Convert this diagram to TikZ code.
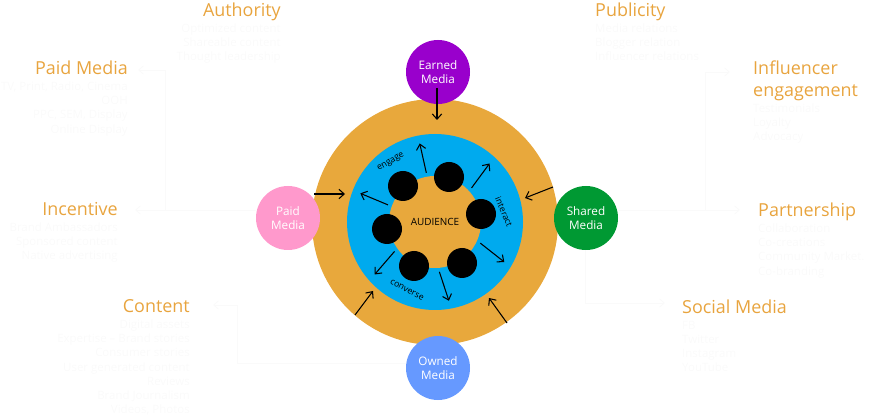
\documentclass[tikz,border=0pt]{standalone}
\usepackage{fontspec}
\setmainfont{Open Sans}
\usetikzlibrary{arrows.meta,positioning,calc}
\definecolor{ringorange}{RGB}{232,168,60}
\definecolor{labelorange}{RGB}{232,164,62}
\definecolor{ringblue}{RGB}{0,170,238}
\definecolor{earnedpurple}{RGB}{153,0,204}
\definecolor{paidpink}{RGB}{255,153,204}
\definecolor{sharedgreen}{RGB}{0,153,51}
\definecolor{ownedblue}{RGB}{102,153,255}
\definecolor{ghost}{RGB}{250,250,250}

\begin{document}
\begin{tikzpicture}[x=0.03cm, y=0.03cm,
  media/.style={circle, minimum size=1.92cm, inner sep=0pt, text=white, align=center, font=\fontsize{10}{12}\selectfont},
  person/.style={circle, fill=black, minimum size=0.9cm, inner sep=0pt},
  arr/.style={-{Straight Barb[length=4.5pt,width=8pt]}, line width=0.9pt},
  head/.style={text=labelorange, font=\fontsize{15.3}{19}\selectfont, inner sep=0pt, text height=11pt, text depth=3.5pt},
  sub/.style={text=ghost, font=\fontsize{9.8}{12.2}\selectfont, inner sep=0pt},
  ghostarr/.style={ghost, line width=0.8pt, -{Straight Barb[length=4pt,width=7pt]}},
  ringword/.style={font=\fontsize{7.5}{9}\selectfont, inner sep=0pt}]
  \useasboundingbox (0,0) rectangle (869,419);

  % rings
  \coordinate (c) at (435,197);
  \fill[ringorange] (c) circle (123);
  \fill[ringblue] (c) circle (88);
  \fill[ringorange] (c) circle (46);
  \node[font=\fontsize{8.5}{10}\selectfont] (aud) at (c) {AUDIENCE};

  % audience members and arrows out of them
  \foreach \x/\y [count=\i] in {403/233, 449/242, 481/205, 462/156, 414/153, 387/190}
    \node[person] (p\i) at (\x,\y) {};
  \foreach \a/\b in {100/101, 43/47, -25/-30, -85/-80, -144/-139, 160/159}
    \draw[arr] ($(c)+(\a:50)$) -- ($(c)+(\b:80)$);

  % words on the blue ring
  \node[ringword, rotate=31] (engage) at (391,257) {engage};
  \node[ringword, rotate=-67] (interact) at (504,207) {interact};
  \node[ringword, rotate=-28] (converse) at (407,129) {converse};

  % media circles
  \node[media, fill=earnedpurple] (earned) at (438,347) {Earned\\Media};
  \node[media, fill=paidpink] (paid) at (288,201) {Paid\\Media};
  \node[media, fill=sharedgreen] (shared) at (586,201) {Shared\\Media};
  \node[media, fill=ownedblue] (owned) at (438,51) {Owned\\Media};

  % arrows into the outer ring
  \coordinate (et) at (437,331); \coordinate (eh) at (437,299);
  \coordinate (pt) at (314,225); \coordinate (ph) at (345,225);
  \coordinate (st) at (553,232); \coordinate (sh) at (525,221);
  \coordinate (ot1) at (355,104); \coordinate (oh1) at (373,128);
  \coordinate (ot2) at (507,96); \coordinate (oh2) at (489,121);
  \draw[arr] (et) -- (eh);
  \draw[arr] (pt) -- (ph);
  \draw[arr] (st) -- (sh);
  \draw[arr] (ot1) -- (oh1);
  \draw[arr] (ot2) -- (oh2);

  % headings, left side
  \node[head, anchor=base east] (auth) at (281,402.5) {Authority};
  \node[head, anchor=base east] (paidh) at (128,344.5) {Paid Media};
  \node[head, anchor=base east] (inc) at (118,203.5) {Incentive};
  \node[head, anchor=base east] (cont) at (190,106.5) {Content};
  % headings, right side
  \node[head, anchor=base west] (pub) at (595,402.5) {Publicity};
  \node[head, anchor=base west, align=left] (infl) at (753,322.5) {Influencer\\engagement};
  \node[head, anchor=base west] (part) at (758,202.5) {Partnership};
  \node[head, anchor=base west] (soc) at (682,105) {Social Media};

  % faint lists under the headings
  \node[sub, align=right, anchor=north east] (authsub) at ([yshift=-2pt]auth.south east) {Optimized content\\Shareable content\\Thought leadership};
  \node[sub, align=right, anchor=north east] (paidsub) at ([yshift=-2pt]paidh.south east) {TV, Print, Radio, Cinema\\OOH\\PPC, SEM, Display\\Online Display};
  \node[sub, align=right, anchor=north east] (incsub) at ([yshift=-2pt]inc.south east) {Brand Ambassadors\\Sponsored content\\Native advertising};
  \node[sub, align=right, anchor=north east] (contsub) at ([yshift=-2pt]cont.south east) {Digital assets\\Expertise -- Brand stories\\Consumer stories\\User generated content\\Reviews\\Brand Journalism\\Videos, Photos};
  \node[sub, align=left, anchor=north west] (pubsub) at ([yshift=-2pt]pub.south west) {Media relations\\Blogger relation\\Influencer relations};
  \node[sub, align=left, anchor=north west] (inflsub) at ([yshift=-2pt]infl.south west) {Testimonials\\Loyalty\\Advocacy};
  \node[sub, align=left, anchor=north west] (partsub) at ([yshift=-2pt]part.south west) {Collaboration\\Co-creations\\Community Market.\\Co-branding};
  \node[sub, align=left, anchor=north west] (socsub) at ([yshift=-2pt]soc.south west) {FB\\Twitter\\Instagram\\YouTube};

  % faint connectors
  \draw[ghostarr] (paid.west |- 0,209) -- (135,209);
  \draw[ghostarr] (165,209) -- (165,349) -- (138,349);
  \draw[ghostarr] (shared.east |- 0,209) -- (740,209);
  \draw[ghostarr] (shared.south -| 585,0) -- (585,116) -- (665,116);
  \draw[ghostarr] (705,209) -- (705,347) -- (730,347);
  \draw[ghostarr] (owned.west |- 0,56) -- (237,56) -- (237,114) -- (213,114);
\end{tikzpicture}
\end{document}
